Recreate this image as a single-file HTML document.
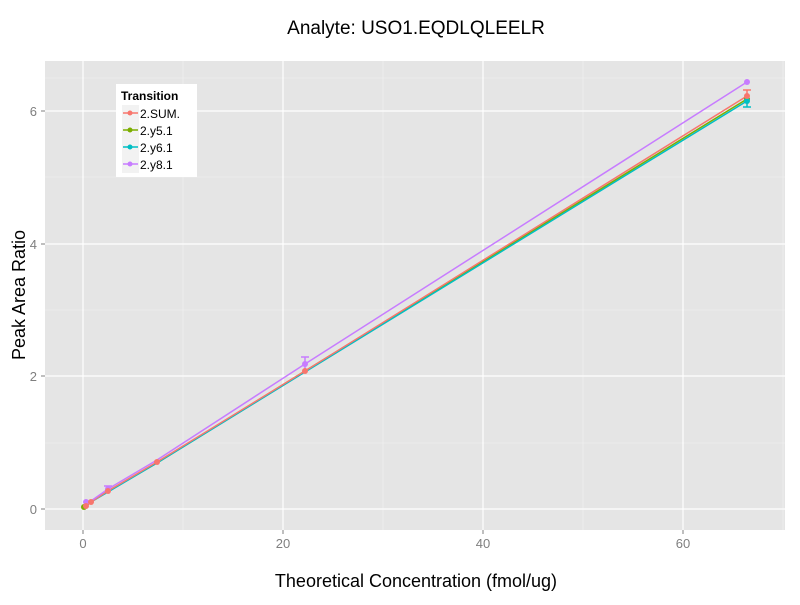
<!DOCTYPE html><html><head><style>body{margin:0;background:#fff}svg text{font-family:"Liberation Sans",sans-serif}</style></head><body>
<svg width="800" height="600" xmlns="http://www.w3.org/2000/svg">
<rect x="45" y="61" width="740" height="469" fill="#e5e5e5"/>
<g stroke="#f2f2f2" stroke-width="0.6">
<line x1="45" x2="785" y1="443" y2="443"/><line x1="45" x2="785" y1="310" y2="310"/><line x1="45" x2="785" y1="177" y2="177"/><line x1="45" x2="785" y1="78" y2="78"/>
<line y1="61" y2="530" x1="183" x2="183"/><line y1="61" y2="530" x1="383" x2="383"/><line y1="61" y2="530" x1="583" x2="583"/><line y1="61" y2="530" x1="783" x2="783"/>
</g>
<g stroke="#fff" stroke-width="1.2">
<line x1="45" x2="785" y1="509" y2="509"/><line x1="45" x2="785" y1="376" y2="376"/><line x1="45" x2="785" y1="244" y2="244"/><line x1="45" x2="785" y1="111" y2="111"/>
<line y1="61" y2="530" x1="83" x2="83"/><line y1="61" y2="530" x1="283" x2="283"/><line y1="61" y2="530" x1="483" x2="483"/><line y1="61" y2="530" x1="683" x2="683"/>
</g>
<g fill="none" stroke-width="1.5">
<polyline stroke="#7cae00" points="84,508 86,506 91,502 108,491 157,463 305,371 747,99"/>
<polyline stroke="#00bfc4" points="84,508 86,506 91,502 108,492 157,463 305,372 747,101"/>
<polyline stroke="#f8766d" points="84,507 86,506 91,502 108,491 157,462 305,371 747,96"/>
<polyline stroke="#c77cff" points="84,502 86,502 91,501 108,489 157,460 305,364 747,82"/>
</g>
<g stroke-width="1.5">
<line x1="747" x2="747" y1="90" y2="104" stroke="#f8766d"/><line x1="743" x2="751" y1="90" y2="90" stroke="#f8766d"/>
<line x1="747" x2="747" y1="96" y2="107" stroke="#00bfc4"/><line x1="743" x2="751" y1="107" y2="107" stroke="#00bfc4"/>
<line x1="305" x2="305" y1="357" y2="371" stroke="#c77cff"/><line x1="301" x2="309" y1="357" y2="357" stroke="#c77cff"/>
<line x1="108" x2="108" y1="486" y2="492" stroke="#c77cff"/><line x1="104" x2="112" y1="486" y2="486" stroke="#c77cff"/>
</g>
<g>
<circle cx="747" cy="82" r="3" fill="#c77cff"/><circle cx="747" cy="99" r="3" fill="#7cae00"/><circle cx="747" cy="101" r="3" fill="#00bfc4"/><circle cx="747" cy="96" r="3" fill="#f8766d"/>
<circle cx="305" cy="364" r="3" fill="#c77cff"/><circle cx="305" cy="371" r="3" fill="#f8766d"/>
<circle cx="157" cy="462" r="3" fill="#f8766d"/><circle cx="108" cy="489" r="3" fill="#c77cff"/><circle cx="108" cy="491" r="3" fill="#f8766d"/>
<circle cx="86" cy="502" r="3" fill="#c77cff"/><circle cx="84" cy="507" r="3" fill="#7cae00"/><circle cx="86" cy="506" r="3" fill="#f8766d"/><circle cx="91" cy="502" r="3" fill="#f8766d"/>
</g>
<g stroke="#7f7f7f" stroke-width="1">
<line x1="41" x2="45" y1="509" y2="509"/><line x1="41" x2="45" y1="376" y2="376"/><line x1="41" x2="45" y1="244" y2="244"/><line x1="41" x2="45" y1="111" y2="111"/>
<line y1="530" y2="534" x1="83" x2="83"/><line y1="530" y2="534" x1="283" x2="283"/><line y1="530" y2="534" x1="483" x2="483"/><line y1="530" y2="534" x1="683" x2="683"/>
</g>
<g font-size="13" fill="#7f7f7f" text-anchor="end">
<text x="37" y="514">0</text><text x="37" y="381">2</text><text x="37" y="249">4</text><text x="37" y="116">6</text>
</g>
<g font-size="13" fill="#7f7f7f" text-anchor="middle">
<text x="83" y="548">0</text><text x="283" y="548">20</text><text x="483" y="548">40</text><text x="683" y="548">60</text>
</g>
<text x="416" y="34" font-size="19" text-anchor="middle">Analyte: USO1.EQDLQLEELR</text>
<text x="416" y="587" font-size="18" text-anchor="middle">Theoretical Concentration (fmol/ug)</text>
<text transform="translate(25,295) rotate(-90)" font-size="18" text-anchor="middle">Peak Area Ratio</text>
<rect x="116" y="84" width="81" height="93" fill="#fff"/>
<text x="121" y="100" font-size="12" font-weight="bold">Transition</text>
<g font-size="12">
<rect x="122" y="105" width="17" height="17" fill="#f2f2f2"/><line x1="123" x2="138" y1="113" y2="113" stroke="#f8766d" stroke-width="1.5"/><circle cx="130" cy="113" r="2.5" fill="#f8766d"/><text x="140" y="118">2.SUM.</text>
<rect x="122" y="122" width="17" height="17" fill="#f2f2f2"/><line x1="123" x2="138" y1="130" y2="130" stroke="#7cae00" stroke-width="1.5"/><circle cx="130" cy="130" r="2.5" fill="#7cae00"/><text x="140" y="135">2.y5.1</text>
<rect x="122" y="139" width="17" height="17" fill="#f2f2f2"/><line x1="123" x2="138" y1="147" y2="147" stroke="#00bfc4" stroke-width="1.5"/><circle cx="130" cy="147" r="2.5" fill="#00bfc4"/><text x="140" y="152">2.y6.1</text>
<rect x="122" y="156" width="17" height="17" fill="#f2f2f2"/><line x1="123" x2="138" y1="164" y2="164" stroke="#c77cff" stroke-width="1.5"/><circle cx="130" cy="164" r="2.5" fill="#c77cff"/><text x="140" y="169">2.y8.1</text>
</g>
</svg></body></html>
